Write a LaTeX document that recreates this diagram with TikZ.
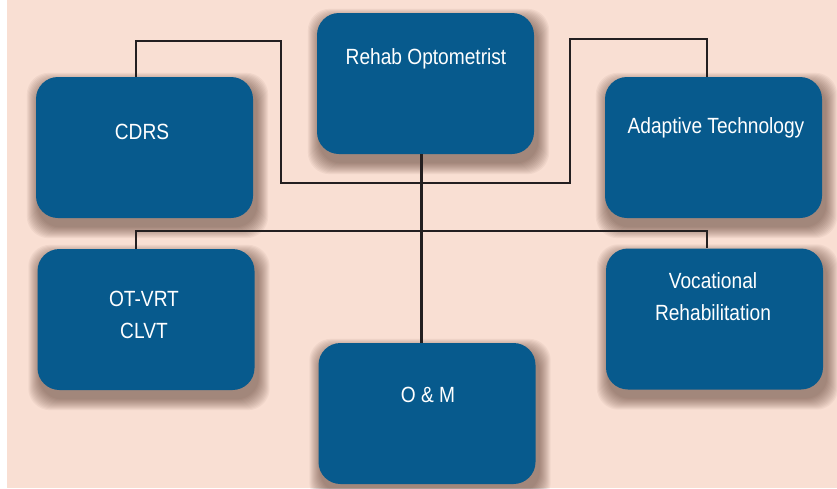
\documentclass[tikz,border=0pt]{standalone}
\usepackage{fontspec}
\setmainfont{Liberation Sans}[FakeStretch=0.87]
\usepackage{tikz}
\usetikzlibrary{calc}
\definecolor{peach}{HTML}{F9DFD3}
\definecolor{boxblue}{HTML}{075A8D}
\definecolor{wire}{HTML}{231F20}
\definecolor{shadowc}{HTML}{4A2A1E}
\pgfdeclarelayer{back}
\pgfdeclarelayer{shade}
\pgfsetlayers{back,shade,main}
\tikzset{
    team/.style={rectangle, rounded corners=22pt, fill=boxblue, minimum width=217pt, minimum height=141pt, inner sep=0pt},
    softshade/.style={shadowc, opacity=0.05, rounded corners=22pt},
    lbl/.style={text=white, align=center, inner sep=0pt, font=\fontsize{22}{32}\selectfont},
    link/.style={wire, line width=2pt},
}

\begin{document}
\begin{tikzpicture}[x=1pt, y=-1pt]
            \useasboundingbox (0,0) rectangle (837,488);

            \node[team] (rehab)    at (425.5,83.5) {};
            \node[team] (cdrs)     at (144.5,147.5) {};
            \node[team] (adapt)    at (713.5,147.5) {};
            \node[team] (otvrt)    at (146,319.5) {};
            \node[team] (vocrehab) at (714.5,319) {};
            \node[team] (om)       at (427,413.5) {};

            \node[lbl] (rehabtxt) at (426,59) {Rehab Optometrist};
            \node[lbl] (cdrstxt)  at (142,132) {CDRS};
            \node[lbl] (adapttxt) at (716,128) {Adaptive Technology};
            \node[lbl] (otvrttxt) at (144,315) {OT-VRT\\CLVT};
            \node[lbl] (voctxt)   at (713,297) {Vocational\\Rehabilitation};
            \node[lbl] (omtxt)    at (428,395) {O \& M};

            \begin{pgfonlayer}{back}
                \fill[white] (0,0) rectangle (837,488);
                \fill[peach] (7,0) rectangle (837,488);% background panel
            \end{pgfonlayer}
            \begin{pgfonlayer}{shade}
                \foreach \b in {rehab,cdrs,adapt,otvrt,vocrehab,om}
                    \foreach \k in {1,...,12}
                        \fill[softshade] ([shift={({(3-\k)*1pt},{(-8-\k)*1pt})}]\b.south west)
                            rectangle ([shift={({(3+\k)*1pt},{(-8+\k)*1pt})}]\b.north east);% blurred drop shadow
            \end{pgfonlayer}

            \coordinate (upleft)  at (281,41);
            \coordinate (loopmid) at (570,183);
            \coordinate (upright) at (707,39);
            \coordinate (hub)     at (421,231);

            % \draw[link] (cdrs.north) -- (adapt.north);
            \draw[link] ([xshift=-8.5pt]cdrs.north) |- (upleft) |- (loopmid) |- (upright) -- ([xshift=-6.5pt]adapt.north);
            \draw[link] ([xshift=-10pt]otvrt.north) |- (hub) -| ([xshift=-7.5pt]vocrehab.north);
            \draw[link, line width=3pt] ([xshift=-4.5pt]rehab.south) -- ([xshift=-6pt]om.north);
        \end{tikzpicture}
\end{document}
